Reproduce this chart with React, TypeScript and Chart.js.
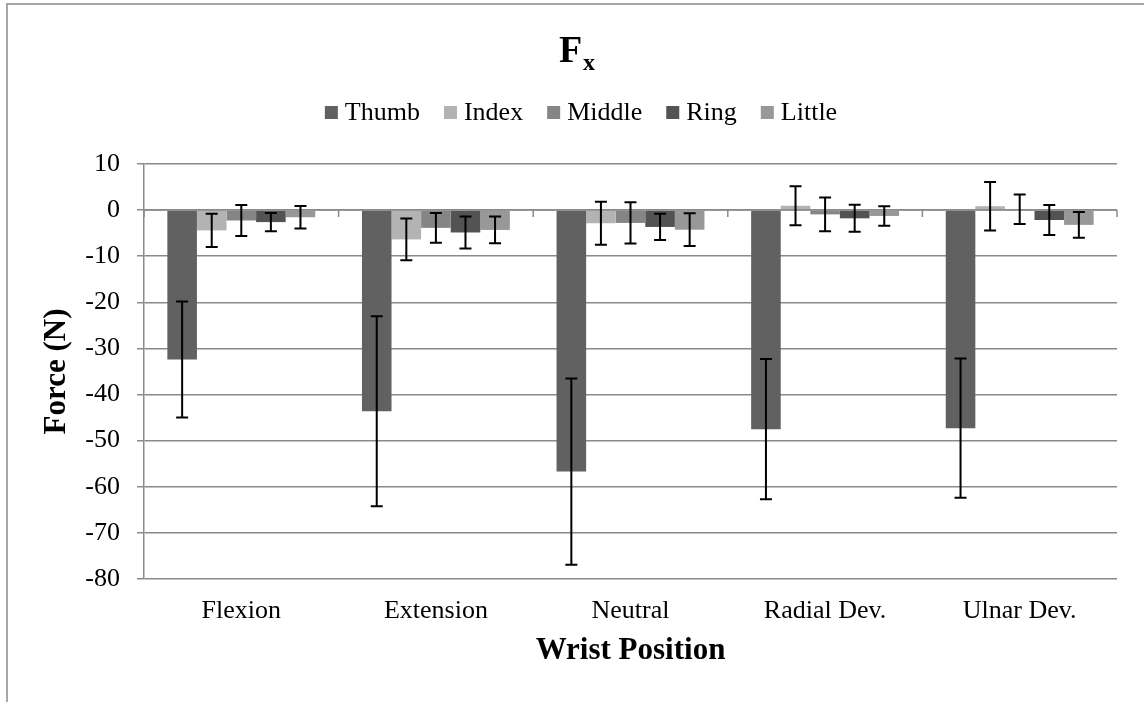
import React, { useEffect, useRef } from "react";
import { Chart, registerables } from "chart.js";

Chart.register(...registerables);

const categories = ["Flexion", "Extension", "Neutral", "Radial Dev.", "Ulnar Dev."];
const seriesNames = ["Thumb", "Index", "Middle", "Ring", "Little"];
const thumb = [-32.4, -43.6, -56.7, -47.5, -47.3];
const thumbErr = [12.6, 20.6, 20.2, 15.2, 15.1];
const indexF = [-4.4, -6.35, -2.85, 0.95, 0.85];
const indexErr = [3.6, 4.55, 4.65, 4.25, 5.25];
const middle = [-2.25, -3.85, -2.78, -0.93, 0.2];
const middleErr = [3.35, 3.25, 4.48, 3.68, 3.2];
const ring = [-2.6, -4.85, -3.65, -1.78, -2.15];
const ringErr = [2.0, 3.45, 2.85, 2.93, 3.25];
const little = [-1.55, -4.3, -4.25, -1.27, -3.2];
const littleErr = [2.45, 2.9, 3.55, 2.13, 2.8];
const yTicks = { min: -80, max: 10, step: 10 };
const colors = ["#616161", "#b3b3b3", "#858585", "#535353", "#989898"];

const FONT = "'Liberation Serif', 'Times New Roman', serif";
const GRID = "#8a8a8a";

const errorBars = {
  id: "errorBars",
  afterDatasetsDraw(chart: any) {
    const { ctx } = chart;
    const y = chart.scales.y;
    ctx.save();
    ctx.strokeStyle = "#000";
    ctx.lineWidth = 2;
    chart.data.datasets.forEach((ds: any, i: number) => {
      const meta = chart.getDatasetMeta(i);
      meta.data.forEach((bar: any, j: number) => {
        const v = ds.data[j];
        const e = ds.errors[j];
        const yt = y.getPixelForValue(v + e);
        const yb = y.getPixelForValue(v - e);
        const x = bar.x;
        ctx.beginPath();
        ctx.moveTo(x, yt);
        ctx.lineTo(x, yb);
        ctx.moveTo(x - 6, yt);
        ctx.lineTo(x + 6, yt);
        ctx.moveTo(x - 6, yb);
        ctx.lineTo(x + 6, yb);
        ctx.stroke();
      });
    });
    ctx.restore();
  },
};

const zeroAxis = {
  id: "zeroAxis",
  afterDatasetsDraw(chart: any) {
    const { ctx, chartArea } = chart;
    const x = chart.scales.x;
    const y = chart.scales.y;
    const y0 = y.getPixelForValue(0);
    ctx.save();
    ctx.strokeStyle = GRID;
    ctx.lineWidth = 1.5;
    ctx.beginPath();
    ctx.moveTo(chartArea.left, y0);
    ctx.lineTo(chartArea.right, y0);
    for (let i = 0; i <= categories.length; i++) {
      const px = x.getPixelForValue(i - 0.5);
      ctx.moveTo(px, y0);
      ctx.lineTo(px, y0 + 7);
    }
    ctx.stroke();
    ctx.restore();
  },
};

const decor = {
  id: "decor",
  afterDraw(chart: any) {
    const { ctx } = chart;
    ctx.save();
    // outer frame
    ctx.strokeStyle = GRID;
    ctx.lineWidth = 1.5;
    ctx.beginPath();
    ctx.moveTo(7, chart.height);
    ctx.lineTo(7, 4);
    ctx.lineTo(chart.width, 4);
    ctx.stroke();

    // title F with subscript x
    ctx.fillStyle = "#000";
    ctx.textBaseline = "alphabetic";
    ctx.font = `bold 38px ${FONT}`;
    const fW = ctx.measureText("F").width;
    ctx.font = `bold 24px ${FONT}`;
    const xW = ctx.measureText("x").width;
    const cx = 577;
    const start = cx - (fW + 1 + xW) / 2;
    ctx.font = `bold 38px ${FONT}`;
    ctx.textAlign = "left";
    ctx.fillText("F", start, 62);
    ctx.font = `bold 24px ${FONT}`;
    ctx.fillText("x", start + fW + 1, 70);

    // legend
    ctx.font = `26px ${FONT}`;
    const box = 13;
    const gapText = 7;
    const gapItem = 24;
    const widths = chart.data.datasets.map((d: any) => ctx.measureText(d.label).width);
    const total =
      widths.reduce((a: number, b: number) => a + b, 0) +
      widths.length * (box + gapText) +
      (widths.length - 1) * gapItem;
    let lx = 581 - total / 2;
    chart.data.datasets.forEach((d: any, i: number) => {
      ctx.fillStyle = d.backgroundColor;
      ctx.fillRect(lx, 106, box, box);
      ctx.fillStyle = "#000";
      ctx.fillText(d.label, lx + box + gapText, 120);
      lx += box + gapText + widths[i] + gapItem;
    });
    ctx.restore();
  },
};

export default function App() {
  const ref = useRef<HTMLCanvasElement | null>(null);
  useEffect(() => {
    if (!ref.current) return;
    const values = [thumb, indexF, middle, ring, little];
    const errs = [thumbErr, indexErr, middleErr, ringErr, littleErr];
    const chart = new Chart(ref.current, {
      type: "bar",
      data: {
        labels: categories,
        datasets: seriesNames.map((name, i) => ({
          label: name,
          data: values[i],
          errors: errs[i],
          backgroundColor: colors[i],
          borderWidth: 0,
          categoryPercentage: 0.76,
          barPercentage: 1,
        })) as any,
      },
      options: {
        responsive: false,
        animation: false,
        layout: { padding: { top: 164, left: 8, right: 27, bottom: 0 } },
        plugins: {
          legend: { display: false },
          title: { display: false },
          tooltip: { enabled: false },
        },
        scales: {
          x: {
            grid: { display: false, drawTicks: false },
            border: { display: false },
            ticks: {
              color: "#000",
              padding: 17,
              font: { family: FONT, size: 26 },
              maxRotation: 0,
            },
            title: {
              display: true,
              text: "Wrist Position",
              color: "#000",
              font: { family: FONT, size: 31, weight: "bold" },
              padding: { top: 0, bottom: 32 },
            },
            afterFit(scale: any) {
              scale.height = 123;
            },
          },
          y: {
            min: yTicks.min,
            max: yTicks.max,
            grid: {
              color: GRID,
              lineWidth: 1.5,
              drawTicks: true,
              tickLength: 7,
            },
            border: { display: true, color: GRID, width: 1.5 },
            ticks: {
              stepSize: yTicks.step,
              color: "#000",
              padding: 17,
              font: { family: FONT, size: 26 },
            },
            title: {
              display: true,
              text: "Force (N)",
              color: "#000",
              font: { family: FONT, size: 31, weight: "bold" },
              padding: { top: 30, bottom: 0 },
            },
            afterFit(scale: any) {
              scale.width = 136;
            },
          },
        },
      } as any,
      plugins: [zeroAxis, errorBars, decor],
    });
    return () => chart.destroy();
  }, []);
  return (
    <div style={{ position: "absolute", left: 0, top: 0, width: 1144, height: 702, background: "#fff" }}>
      <canvas ref={ref} width={1144} height={702} style={{ display: "block" }} />
    </div>
  );
}
